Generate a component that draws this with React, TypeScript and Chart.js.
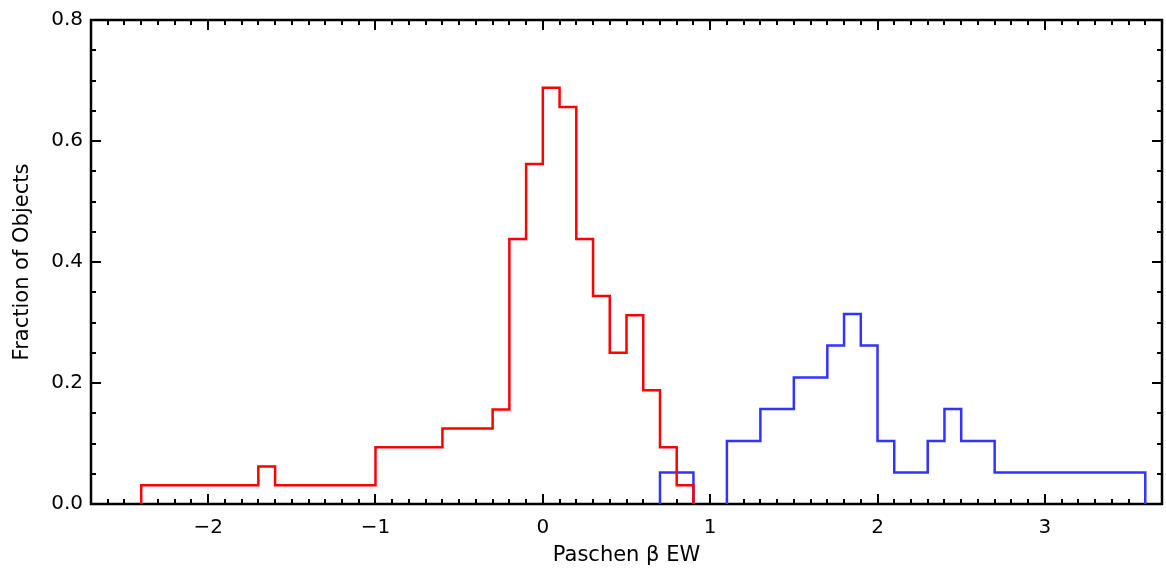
import React, { useEffect, useRef } from "react";
import { Chart, registerables } from "chart.js";

Chart.register(...registerables);

// Red histogram: bin edges and fraction per bin
const redEdges = [-2.4, -1.7, -1.6, -1.0, -0.6, -0.3, -0.2, -0.1, 0.0, 0.1, 0.2, 0.3, 0.4, 0.5, 0.6, 0.7, 0.8, 0.9];
const redValues = [0.031, 0.062, 0.031, 0.094, 0.125, 0.156, 0.438, 0.562, 0.688, 0.656, 0.438, 0.344, 0.25, 0.312, 0.188, 0.094, 0.031];

// Blue histogram
const blueEdges = [0.7, 0.9, 1.1, 1.3, 1.5, 1.7, 1.8, 1.9, 2.0, 2.1, 2.3, 2.4, 2.5, 2.7, 3.6];
const blueValues = [0.052, 0, 0.104, 0.157, 0.209, 0.262, 0.314, 0.262, 0.104, 0.052, 0.104, 0.157, 0.104, 0.052];

const xTicks = [-2, -1, 0, 1, 2, 3];
const yTicks = [0, 0.2, 0.4, 0.6, 0.8];
const X_MIN = -2.7;
const X_MAX = 3.7;
const Y_MIN = 0;
const Y_MAX = 0.8;

const FONT = "'DejaVu Sans', sans-serif";

function steps(edges: number[], vals: number[]) {
  const pts: { x: number; y: number | null }[] = [];
  let prev = 0;
  for (let i = 0; i < vals.length; i++) {
    const v = vals[i];
    if (v === 0) {
      if (prev !== 0) pts.push({ x: edges[i], y: 0 });
      pts.push({ x: (edges[i] + edges[i + 1]) / 2, y: null });
      prev = 0;
      continue;
    }
    if (prev === 0) pts.push({ x: edges[i], y: 0 });
    pts.push({ x: edges[i], y: v });
    prev = v;
  }
  if (prev !== 0) pts.push({ x: edges[edges.length - 1], y: 0 });
  return pts;
}

const framePlugin = {
  id: "idlFrame",
  beforeDatasetsDraw(chart: any) {
    const { ctx, chartArea: ca, scales } = chart;
    const xs = scales.x;
    const ys = scales.y;
    ctx.save();
    ctx.strokeStyle = "#000";
    ctx.lineWidth = 2;
    ctx.lineCap = "butt";
    ctx.beginPath();
    for (let i = Math.round(X_MIN * 10); i <= Math.round(X_MAX * 10); i++) {
      const px = Math.round(xs.getPixelForValue(i / 10));
      const len = i % 10 === 0 ? 10 : 5;
      ctx.moveTo(px, ca.bottom);
      ctx.lineTo(px, ca.bottom - len);
      ctx.moveTo(px, ca.top);
      ctx.lineTo(px, ca.top + len);
    }
    for (let i = 0; i <= 16; i++) {
      const py = Math.round(ys.getPixelForValue(i * 0.05));
      const len = i % 4 === 0 ? 10 : 5;
      ctx.moveTo(ca.left, py);
      ctx.lineTo(ca.left + len, py);
      ctx.moveTo(ca.right, py);
      ctx.lineTo(ca.right - len, py);
    }
    ctx.stroke();
    ctx.lineWidth = 2.5;
    ctx.strokeRect(ca.left, ca.top, ca.right - ca.left, ca.bottom - ca.top);
    ctx.restore();
  },
};

export default function App() {
  const ref = useRef<HTMLCanvasElement | null>(null);
  useEffect(() => {
    if (!ref.current) return;
    const chart = new Chart(ref.current, {
      type: "line",
      data: {
        datasets: [
          {
            data: steps(redEdges, redValues) as any,
            borderColor: "#ff0000",
            borderWidth: 2.5,
            pointRadius: 0,
            stepped: "before",
            spanGaps: false,
            fill: false,
          },
          {
            data: steps(blueEdges, blueValues) as any,
            borderColor: "#3333ff",
            borderWidth: 2.5,
            pointRadius: 0,
            stepped: "before",
            spanGaps: false,
            fill: false,
          },
        ],
      },
      options: {
        responsive: false,
        animation: false,
        layout: { padding: { left: 0, right: 4, top: 11, bottom: 0 } },
        plugins: { legend: { display: false }, tooltip: { enabled: false } },
        scales: {
          x: {
            type: "linear",
            min: X_MIN,
            max: X_MAX,
            grid: { display: false, drawTicks: false },
            border: { display: false },
            afterBuildTicks: (s: any) => {
              s.ticks = xTicks.map((v) => ({ value: v }));
            },
            afterFit: (s: any) => {
              s.height = 74;
            },
            ticks: {
              padding: 12,
              color: "#000",
              maxRotation: 0,
              font: { family: FONT, size: 20 },
              callback: (v: any) => (Number(v) < 0 ? "\u2212" + Math.abs(Number(v)) : String(v)),
            },
            title: {
              display: true,
              text: "Paschen \u03B2 EW",
              color: "#000",
              font: { family: FONT, size: 21 },
              padding: { top: 0, bottom: 10 },
            },
          },
          y: {
            type: "linear",
            min: Y_MIN,
            max: Y_MAX,
            grid: { display: false, drawTicks: false },
            border: { display: false },
            afterBuildTicks: (s: any) => {
              s.ticks = yTicks.map((v) => ({ value: v }));
            },
            afterFit: (s: any) => {
              s.width = 91;
            },
            ticks: {
              padding: 8,
              color: "#000",
              font: { family: FONT, size: 20 },
              callback: (v: any) => Number(v).toFixed(1),
            },
            title: {
              display: true,
              text: "Fraction of Objects",
              color: "#000",
              font: { family: FONT, size: 21 },
              padding: { top: 10, bottom: 0 },
            },
          },
        },
      },
      plugins: [framePlugin],
    });
    return () => chart.destroy();
  }, []);
  return (
    <div style={{ position: "fixed", left: 0, top: 0, width: 1166, height: 578, background: "#fff" }}>
      <canvas ref={ref} width={1166} height={578} style={{ display: "block" }} />
    </div>
  );
}
